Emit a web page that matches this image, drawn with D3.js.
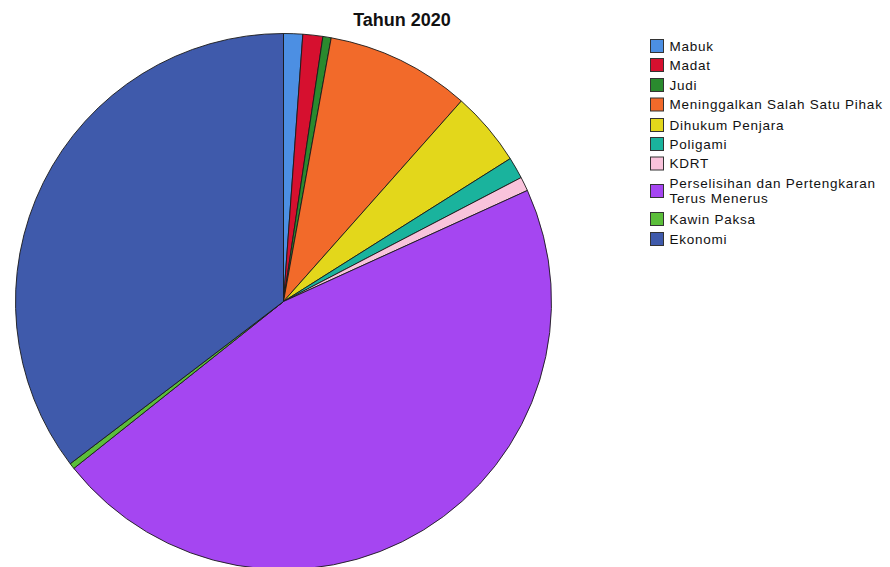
<!DOCTYPE html>
<html>
<head>
<meta charset="utf-8">
<script src="https://cdn.jsdelivr.net/npm/d3@7"></script>
<style>
html,body{margin:0;padding:0;background:#fff;overflow:hidden;}
svg{display:block;}
</style>
</head>
<body>
<svg id="chart" width="890" height="567"></svg>
<script>
const categories = ["Mabuk","Madat","Judi","Meninggalkan Salah Satu Pihak","Dihukum Penjara","Poligami","KDRT","Perselisihan dan Pertengkaran|Terus Menerus","Kawin Paksa","Ekonomi"];
const values = [1.15, 1.2, 0.5, 8.7, 4.5, 1.3, 0.85, 46.1, 0.35, 35.35];
const colors = ["#4C8FE3","#D6102F","#2A8A2E","#F26A2A","#E3D71B","#1AB39D","#F9C3DB","#A546F1","#5BBE3A","#3F5AAB"];
const title = "Tahun 2020";

const svg = d3.select("#chart");
const cx = 283.5, cy = 301.5, r = 268;

svg.append("text").attr("x", 402).attr("y", 26).attr("text-anchor","middle")
  .style("font-family","'Liberation Sans', Arial, sans-serif").style("font-weight","bold").style("font-size","18px")
  .attr("fill","#111").text(title);

const pie = d3.pie().sort(null).value(d => d)(values);
const arc = d3.arc().innerRadius(0).outerRadius(r);
const g = svg.append("g").attr("transform", `translate(${cx},${cy})`);
g.selectAll("path").data(pie).join("path")
  .attr("d", arc).attr("fill", (d,i) => colors[i])
  .attr("stroke", "#1a1a1a").attr("stroke-width", 0.9).attr("stroke-linejoin","round");

const legendY = [46, 65, 85, 104.5, 125, 144, 163.5, 191, 219, 239];
const lg = svg.append("g");
categories.forEach((c, i) => {
  const y = legendY[i];
  lg.append("rect").attr("x", 650.5).attr("y", y - 6.5).attr("width", 13).attr("height", 13)
    .attr("fill", colors[i]).attr("stroke", "#333").attr("stroke-width", 1);
  const lines = c.split("|");
  lines.forEach((ln, k) => {
    const ly = lines.length === 1 ? y : y + (k === 0 ? -7.5 : 7.5);
    lg.append("text").attr("x", 669.5).attr("y", ly).attr("dy", "0.35em")
      .style("font-family","'Liberation Sans', Arial, sans-serif").style("font-size","13.5px")
      .style("letter-spacing","0.75px").attr("fill","#111").text(ln);
  });
});
</script>
</body>
</html>
